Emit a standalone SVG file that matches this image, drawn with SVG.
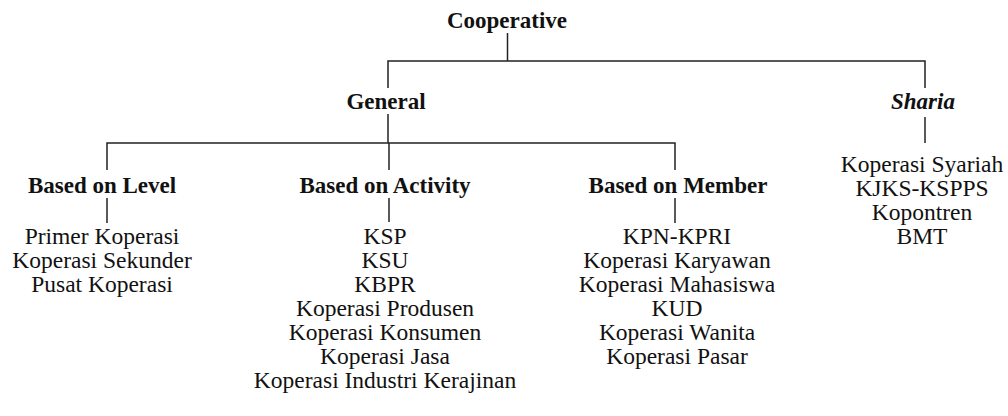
<svg xmlns="http://www.w3.org/2000/svg" width="1008" height="416" viewBox="0 0 1008 416">
<style>
text{font-family:'Liberation Serif','Times New Roman',serif;font-size:23.5px;fill:#111;text-anchor:middle}
.h{font-weight:bold;font-size:23px}
.i{font-weight:bold;font-style:italic;font-size:23px}
.c line,.c polyline{stroke:#222;stroke-width:1.5;fill:none}
</style>
<rect width="1008" height="416" fill="#fff"/>
<g class="c" id="connectors">
<line x1="507.5" y1="33" x2="507.5" y2="61"/>
<polyline points="388,88 388,61 925,61 925,88"/>
<line x1="388" y1="114" x2="388" y2="143"/>
<line x1="925" y1="117" x2="925" y2="143"/>
<polyline points="107,170 107,143 675,143 675,170"/>
<line x1="389" y1="143" x2="389" y2="170"/>
<line x1="107" y1="198" x2="107" y2="223"/>
<line x1="389" y1="198" x2="389" y2="222"/>
<line x1="675" y1="198" x2="675" y2="223"/>
</g>
<g id="cooperative"><text class="h" x="507" y="28">Cooperative</text></g>
<g id="general"><text class="h" x="386" y="109">General</text></g>
<g id="sharia">
<text class="i" x="923" y="109">Sharia</text>
<text x="922" y="172">Koperasi Syariah</text>
<text x="922" y="196">KJKS-KSPPS</text>
<text x="922" y="220">Kopontren</text>
<text x="922" y="244">BMT</text>
</g>
<g id="level">
<text class="h" x="102" y="193">Based on Level</text>
<text x="102" y="244">Primer Koperasi</text>
<text x="102" y="268">Koperasi Sekunder</text>
<text x="102" y="292">Pusat Koperasi</text>
</g>
<g id="activity">
<text class="h" x="385" y="193">Based on Activity</text>
<text x="385" y="244">KSP</text>
<text x="385" y="268">KSU</text>
<text x="385" y="292">KBPR</text>
<text x="385" y="316">Koperasi Produsen</text>
<text x="385" y="340">Koperasi Konsumen</text>
<text x="385" y="364">Koperasi Jasa</text>
<text x="385" y="388">Koperasi Industri Kerajinan</text>
</g>
<g id="member">
<text class="h" x="678" y="193">Based on Member</text>
<text x="677" y="244">KPN-KPRI</text>
<text x="677" y="268">Koperasi Karyawan</text>
<text x="677" y="292">Koperasi Mahasiswa</text>
<text x="677" y="316">KUD</text>
<text x="677" y="340">Koperasi Wanita</text>
<text x="677" y="364">Koperasi Pasar</text>
</g>
</svg>
